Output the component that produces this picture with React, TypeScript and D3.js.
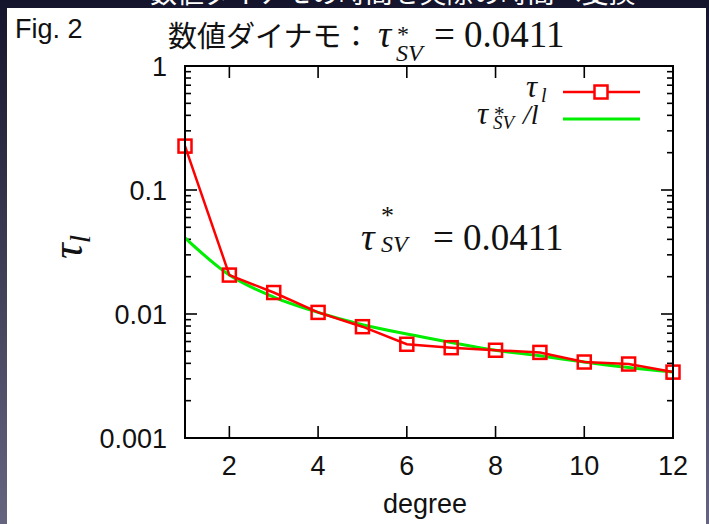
import * as d3 from 'd3';

// degree l and measured decay time tau_l
const degrees = [1, 2, 3, 4, 5, 6, 7, 8, 9, 10, 11, 12];
const tauL = [0.226, 0.0206, 0.0149, 0.0103, 0.0079, 0.0057, 0.00535, 0.0051, 0.0049, 0.0041, 0.00395, 0.0034];
// tau*_SV / l curve read at the same degrees
const tauSvOverL = [0.0411, 0.0206, 0.0137, 0.0103, 0.0082, 0.0069, 0.0059, 0.0051, 0.0046, 0.0041, 0.0037, 0.0034];

const xTicks = [2, 4, 6, 8, 10, 12];
const yTicks = [0.001, 0.01, 0.1, 1];
const yTickLabels = ['0.001', '0.01', '0.1', '1'];

const W = 709;
const H = 524;
const left = 185, right = 673, top = 66, bottom = 438;

const sans = '"Liberation Sans", Arial, sans-serif';
const serif = '"Liberation Serif", "Times New Roman", serif';
const cjk = '"Noto Sans CJK JP", sans-serif';

const App = () => {
    const x = d3.scaleLinear().domain([1, 12]).range([left, right]);
    const y = d3.scaleLog().domain([0.001, 1]).range([bottom, top]);

    const minor: number[] = [];
    [0.001, 0.01, 0.1].forEach(d => {
        for (let k = 2; k <= 9; k++) minor.push(d * k);
    });

    const redLine = d3.line<number>()
        .x((_, i) => x(degrees[i]))
        .y(d => y(d));
    const greenLine = d3.line<number>()
        .x((_, i) => x(degrees[i]))
        .y(d => y(d))
        .curve(d3.curveMonotoneX);

    const sq = 13;

    return (
        <svg width={W} height={H} style={{ position: 'absolute', left: 0, top: 0 }}>
            <defs>
                <linearGradient id="bg" x1="0" y1="0" x2="0" y2="1">
                    <stop offset="0" stopColor="#14142c" />
                    <stop offset="1" stopColor="#65657f" />
                </linearGradient>
                <clipPath id="plot">
                    <rect x={left} y={top} width={right - left} height={bottom - top} />
                </clipPath>
            </defs>
            <rect width={W} height={H} fill="url(#bg)" />
            <text x={150} y={3} fill="#fff" fontFamily={cjk} fontSize={27}>数値ダイナモの時間を実際の時間へ変換</text>
            <rect x={7} y={8} width={699} height={H - 8} fill="#fff" />

            <text x={15} y={38} fontFamily={sans} fontSize={27} fill="#111">Fig. 2</text>

            {/* title */}
            <text x={168} y={47} fontFamily={cjk} fontSize={29} fill="#111">数値ダイナモ：</text>
            <text y={47} fontFamily={serif} fontSize={37} fill="#111">
                <tspan x={378} fontStyle="italic">τ</tspan>
                <tspan x={397} y={42} fontSize={24}>*</tspan>
                <tspan x={396} y={61} fontSize={24} fontStyle="italic">SV</tspan>
                <tspan x={434} y={47}>= 0.0411</tspan>
            </text>

            {/* ticks */}
            <g stroke="#000" strokeWidth={1.6}>
                {xTicks.map(t => (
                    <g key={'x' + t}>
                        <line x1={x(t)} x2={x(t)} y1={bottom} y2={bottom - 12} />
                        <line x1={x(t)} x2={x(t)} y1={top} y2={top + 12} />
                    </g>
                ))}
                {yTicks.map(t => (
                    <g key={'y' + t}>
                        <line x1={left} x2={left + 12} y1={y(t)} y2={y(t)} />
                        <line x1={right} x2={right - 12} y1={y(t)} y2={y(t)} />
                    </g>
                ))}
                {minor.map(t => (
                    <g key={'m' + t}>
                        <line x1={left} x2={left + 6} y1={y(t)} y2={y(t)} />
                        <line x1={right} x2={right - 6} y1={y(t)} y2={y(t)} />
                    </g>
                ))}
            </g>

            {/* tick labels */}
            <g fontFamily={sans} fontSize={27} fill="#111">
                {xTicks.map(t => (
                    <text key={'xl' + t} x={x(t)} y={475} textAnchor="middle">{t}</text>
                ))}
                {yTicks.map((t, i) => (
                    <text key={'yl' + t} x={167} y={y(t) + 10} textAnchor="end">{yTickLabels[i]}</text>
                ))}
            </g>
            <text x={425} y={513} textAnchor="middle" fontFamily={sans} fontSize={27} fill="#111">degree</text>

            {/* y label */}
            <g transform="translate(82,247) rotate(-90)">
                <text x={0} y={0} textAnchor="middle" fontFamily={serif} fontStyle="italic" fontSize={44} fill="#111">
                    τ<tspan fontSize={30} dy={8}>l</tspan>
                </text>
            </g>

            {/* annotation */}
            <text y={250} fontFamily={serif} fontSize={38} fill="#111">
                <tspan x={361} fontStyle="italic">τ</tspan>
                <tspan x={381} y={224} fontSize={26}>*</tspan>
                <tspan x={381} y={252} fontSize={24} fontStyle="italic">SV</tspan>
                <tspan x={433} y={250} fontSize={37}>= 0.0411</tspan>
            </text>

            {/* data */}
            <g clipPath="url(#plot)">
                <path d={greenLine(tauSvOverL) ?? ''} fill="none" stroke="#00ee00" strokeWidth={3} />
            </g>
            <path d={redLine(tauL) ?? ''} fill="none" stroke="#ff0000" strokeWidth={2.5} />
            {tauL.map((v, i) => (
                <rect key={'p' + i} x={x(degrees[i]) - sq / 2} y={y(v) - sq / 2} width={sq} height={sq}
                    fill="none" stroke="#ff0000" strokeWidth={2.5} />
            ))}

            {/* legend */}
            <text y={97} fontFamily={serif} fontStyle="italic" fontSize={31} fill="#111">
                <tspan x={526}>τ</tspan>
                <tspan x={541} y={102} fontSize={20}>l</tspan>
            </text>
            <line x1={563} x2={640} y1={92} y2={92} stroke="#ff0000" strokeWidth={2.5} />
            <rect x={601 - sq / 2} y={92 - sq / 2} width={sq} height={sq} fill="#fff" stroke="#ff0000" strokeWidth={2.5} />

            <text y={124} fontFamily={serif} fontStyle="italic" fontSize={31} fill="#111">
                <tspan x={477}>τ</tspan>
                <tspan x={494} y={121} fontSize={21} fontStyle="normal">*</tspan>
                <tspan x={493} y={129} fontSize={19}>SV</tspan>
                <tspan x={523} y={124} fontSize={28}>/l</tspan>
            </text>
            <line x1={563} x2={640} y1={119} y2={119} stroke="#00ee00" strokeWidth={3} />

            <rect x={left} y={top} width={right - left} height={bottom - top} fill="none" stroke="#000" strokeWidth={2} />
        </svg>
    );
};

export default App;
